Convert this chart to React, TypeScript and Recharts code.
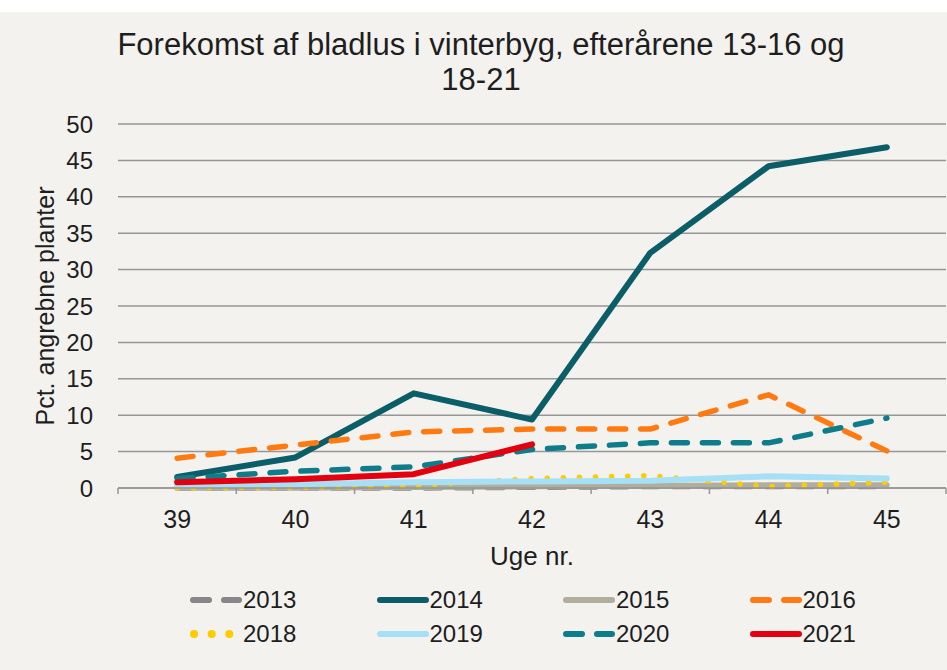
import React from 'react';
import { LineChart, Line, XAxis, YAxis, CartesianGrid } from 'recharts';

// Uge nr. (week numbers) on the x axis
const weeks = ['39', '40', '41', '42', '43', '44', '45'];

// Pct. angrebne planter per year
const y2013 = [0, 0, 0, 0.1, 0.2, 0.2, 0.2];
const y2014 = [1.5, 4.2, 13, 9.4, 32.3, 44.2, 46.8];
const y2015 = [0, 0, 0.1, 0.2, 0.3, 0.4, 0.4];
const y2016 = [4.1, 5.9, 7.7, 8.1, 8.1, 12.8, 5.1];
const y2018 = [0, 0.1, 0.3, 1.3, 1.7, 0.2, 0.8];
const y2019 = [0.3, 0.5, 0.8, 0.9, 1.0, 1.6, 1.3];
const y2020 = [1.3, 2.3, 2.9, 5.3, 6.2, 6.2, 9.6];
const y2021 = [0.8, 1.2, 1.9, 6.0, null, null, null];

const yTicks = [0, 5, 10, 15, 20, 25, 30, 35, 40, 45, 50];

interface Series {
  key: string;
  values: Array<number | null>;
  color: string;
  width: number;
  dash?: string;
  dots?: boolean;
}

const series: Series[] = [
  { key: '2013', values: y2013, color: '#878787', width: 5.5, dash: '16 15' },
  { key: '2014', values: y2014, color: '#0b5d68', width: 6 },
  { key: '2015', values: y2015, color: '#b1ae9d', width: 5.5 },
  { key: '2016', values: y2016, color: '#ff7b12', width: 5.5, dash: '16 15' },
  { key: '2018', values: y2018, color: '#ffcc00', width: 5.5, dash: '0.1 16', dots: true },
  { key: '2019', values: y2019, color: '#a5e0f6', width: 6 },
  { key: '2020', values: y2020, color: '#0e7d8b', width: 5.5, dash: '16 15' },
  { key: '2021', values: y2021, color: '#e3000f', width: 6 },
];

const data = weeks.map((w, i) => {
  const row: Record<string, string | number | null> = { week: w };
  series.forEach((s) => { row[s.key] = s.values[i]; });
  return row;
});

const W = 947;
const CH = 590;
const YW = 118;
const RIGHT = 1;
const HALF = (W - YW - RIGHT) / weeks.length / 2;
const FONT = '"Liberation Sans", Arial, sans-serif';
const TXT = '#1e1e1e';
const GRID = '#969696';

function WeekTick(props: any) {
  const { x, y, payload, index } = props;
  return (
    <g>
      <line x1={x - HALF} x2={x - HALF} y1={y} y2={y + 6} stroke={GRID} strokeWidth={1.5} />
      {index === weeks.length - 1 && (
        <line x1={x + HALF} x2={x + HALF} y1={y} y2={y + 6} stroke={GRID} strokeWidth={1.5} />
      )}
      <text x={x} y={y + 40} textAnchor="middle" fontSize={25} fill={TXT} fontFamily={FONT}>
        {payload.value}
      </text>
    </g>
  );
}

function YLabel(props: any) {
  const { viewBox } = props;
  const cx = viewBox.x + 45;
  const cy = viewBox.y + viewBox.height / 2;
  return (
    <text
      x={cx}
      y={cy}
      transform={`rotate(-90 ${cx} ${cy})`}
      textAnchor="middle"
      dominantBaseline="central"
      fontSize={25}
      fill={TXT}
      fontFamily={FONT}
    >
      Pct. angrebne planter
    </text>
  );
}

function LegendIcon({ s }: { s: Series }) {
  if (s.dots) {
    return (
      <svg width={52} height={12}>
        <line x1={4} x2={50} y1={6} y2={6} stroke={s.color} strokeWidth={8}
          strokeLinecap="round" strokeDasharray="0.1 17.5" />
      </svg>
    );
  }
  return (
    <svg width={52} height={12}>
      <line x1={3} x2={49} y1={6} y2={6} stroke={s.color} strokeWidth={6}
        strokeLinecap="round" strokeDasharray={s.dash ? '16 15' : undefined} />
    </svg>
  );
}

function ChartLegend() {
  return (
    <div
      style={{
        position: 'absolute', left: 190, top: 586, width: 760,
        display: 'grid', gridTemplateColumns: 'repeat(4, 186.5px)', rowGap: 6,
        fontFamily: FONT, fontSize: 24, color: TXT,
      }}
    >
      {series.map((s) => (
        <div key={s.key} style={{ display: 'flex', alignItems: 'center', height: 28 }}>
          <LegendIcon s={s} />
          <span style={{ marginLeft: 1 }}>{s.key}</span>
        </div>
      ))}
    </div>
  );
}

export default function App() {
  return (
    <div style={{ position: 'absolute', left: 0, top: 0, width: W, height: 670, background: '#f3f2ee', fontFamily: FONT, overflow: 'hidden' }}>
      <div style={{ position: 'absolute', left: 0, top: 0, width: W, height: 12, background: '#ffffff' }} />
      <div
        style={{
          position: 'absolute', left: 0, top: 27, width: 962, textAlign: 'center',
          fontSize: 31, lineHeight: '35px', color: TXT,
        }}
      >
        Forekomst af bladlus i vinterbyg, efterårene 13-16 og
        <br />
        18-21
      </div>
      <div style={{ position: 'absolute', left: 0, top: 0 }}>
        <LineChart width={W} height={CH} data={data} margin={{ top: 124, right: RIGHT, bottom: CH - 488 - 80, left: 0 }}>
          <CartesianGrid vertical={false} stroke={GRID} strokeWidth={1.5} />
          <XAxis
            dataKey="week"
            padding={{ left: HALF, right: HALF }}
            height={80}
            interval={0}
            axisLine={{ stroke: GRID, strokeWidth: 1.5 }}
            tickLine={false}
            tickSize={0}
            tickMargin={0}
            tick={<WeekTick />}
            label={{ value: 'Uge nr.', position: 'insideBottom', offset: 3, fontSize: 26, fill: TXT, fontFamily: FONT }}
          />
          <YAxis
            domain={[0, 50]}
            ticks={yTicks}
            interval={0}
            width={YW}
            axisLine={false}
            tickLine={false}
            tickMargin={19}
            tick={{ fontSize: 24, fill: TXT, fontFamily: FONT }}
            label={<YLabel />}
          />
          {series.map((s) => (
            <Line
              key={s.key}
              type="linear"
              dataKey={s.key}
              stroke={s.color}
              strokeWidth={s.width}
              strokeDasharray={s.dash}
              strokeLinecap="round"
              strokeLinejoin="round"
              dot={false}
              activeDot={false}
              isAnimationActive={false}
            />
          ))}
        </LineChart>
      </div>
      <ChartLegend />
    </div>
  );
}
